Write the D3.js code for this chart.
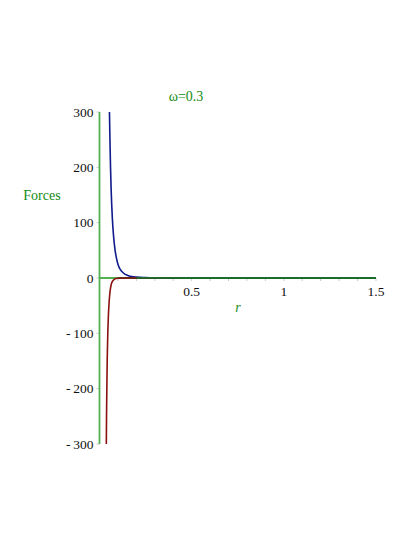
<!DOCTYPE html>
<html>
<head>
<meta charset="utf-8">
<script src="https://cdn.jsdelivr.net/npm/d3@7"></script>
<style>
  body { margin: 0; background: #fff; }
</style>
</head>
<body>
<svg id="viz"></svg>
<script>
// Values: [r, force]
const repulsive = [
  [0.054, 300], [0.056, 262], [0.058, 228], [0.060, 198], [0.063, 162],
  [0.066, 134], [0.070, 106], [0.075, 81], [0.080, 63], [0.085, 49],
  [0.090, 39], [0.100, 25], [0.110, 17], [0.120, 12], [0.140, 6.5],
  [0.160, 3.8], [0.200, 1.6], [0.250, 0.7], [0.300, 0.3], [0.400, 0.1],
  [0.600, 0.02], [1.000, 0], [1.500, 0]
];
const attractive = [
  [0.037, -300], [0.038, -255], [0.040, -195], [0.042, -145], [0.045, -100],
  [0.048, -70], [0.052, -45], [0.056, -28], [0.060, -18], [0.065, -10],
  [0.070, -6], [0.080, -2.5], [0.090, -1], [0.100, -0.5], [0.150, -0.05],
  [0.300, 0], [1.500, 0]
];
const net = [
  [0.10, 0.2], [0.20, 0.05], [0.50, 0], [1.00, 0], [1.50, 0]
];
const xTicks = [0.5, 1, 1.5];
const yTicks = [-300, -200, -100, 0, 100, 200, 300];
const title = "\u03c9=0.3";

const width = 415, height = 537;
const serif = "'Liberation Serif', 'Times New Roman', Times, serif";
const svg = d3.select("#viz").attr("width", width).attr("height", height)
  .attr("font-family", serif);

const x = d3.scaleLinear().domain([0, 1.5]).range([99.5, 376]);
const y = d3.scaleLinear().domain([-300, 300]).range([444, 112]);

const axisGreen = "#52b152";
const textGreen = "#148c14";

// minor ticks
const minorX = d3.range(0.1, 1.51, 0.1);
svg.append("g").selectAll("line").data(minorX).enter().append("line")
  .attr("x1", d => x(d)).attr("x2", d => x(d))
  .attr("y1", y(0)).attr("y2", y(0) + 3)
  .attr("stroke", "#c8c8c8").attr("stroke-width", 1);
svg.append("g").selectAll("line").data(yTicks).enter().append("line")
  .attr("x1", x(0) - 3).attr("x2", x(0))
  .attr("y1", d => y(d)).attr("y2", d => y(d))
  .attr("stroke", "#c8c8c8").attr("stroke-width", 1);

// axes
svg.append("line")
  .attr("x1", x(0)).attr("x2", x(0)).attr("y1", y(300)).attr("y2", y(-300))
  .attr("stroke", axisGreen).attr("stroke-width", 1.8);
svg.append("line")
  .attr("x1", x(0)).attr("x2", x(1.5)).attr("y1", y(0)).attr("y2", y(0))
  .attr("stroke", axisGreen).attr("stroke-width", 1.8);

// tick labels
svg.append("g").selectAll("text").data(xTicks).enter().append("text")
  .attr("x", d => x(d)).attr("y", y(0) + 18)
  .attr("text-anchor", "middle").attr("font-size", 13.5).attr("fill", "#111")
  .text(d => d3.format("")(d));
svg.append("g").selectAll("text").data(yTicks).enter().append("text")
  .attr("x", x(0) - 6).attr("y", d => y(d) + 4.5)
  .attr("text-anchor", "end").attr("font-size", 13.5).attr("fill", "#111")
  .text(d => d < 0 ? "-\u2009" + Math.abs(d) : d);

// curves
const line = d3.line().x(d => x(d[0])).y(d => y(d[1])).curve(d3.curveMonotoneX);
svg.append("path").datum(net).attr("d", line)
  .attr("fill", "none").attr("stroke", "#1d6b2a").attr("stroke-width", 1.8);
svg.append("path").datum(repulsive).attr("d", line)
  .attr("fill", "none").attr("stroke", "#101c8c").attr("stroke-width", 1.6);
svg.append("path").datum(attractive).attr("d", line)
  .attr("fill", "none").attr("stroke", "#8c1010").attr("stroke-width", 1.6);
svg.append("path").datum(net.slice(1)).attr("d", line)
  .attr("fill", "none").attr("stroke", "#1d6b2a").attr("stroke-width", 1.8);

// labels
svg.append("text").attr("x", 186).attr("y", 101)
  .attr("text-anchor", "middle").attr("font-size", 14).attr("fill", textGreen)
  .text(title);
svg.append("text").attr("x", 42).attr("y", 200)
  .attr("text-anchor", "middle").attr("font-size", 14).attr("fill", textGreen)
  .text("Forces");
svg.append("text").attr("x", 238).attr("y", 312)
  .attr("text-anchor", "middle").attr("font-size", 14).attr("font-style", "italic")
  .attr("fill", textGreen).text("r");
</script>
</body>
</html>
